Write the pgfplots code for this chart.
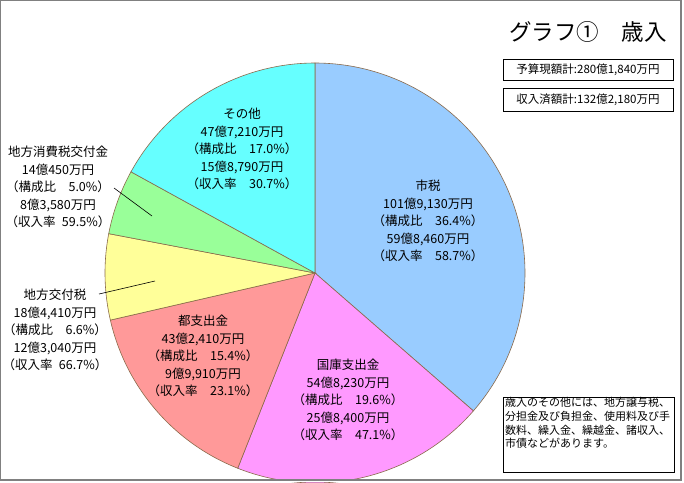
\documentclass[border=0pt]{standalone}
\usepackage{fontspec}
\setmainfont{Noto Sans CJK JP}
\usepackage{pgfplots}
\pgfplotsset{compat=1.18}
\definecolor{cShi}{HTML}{99CCFF}
\definecolor{cKoku}{HTML}{FF99FF}
\definecolor{cTo}{HTML}{FF9999}
\definecolor{cKofu}{HTML}{FFFF99}
\definecolor{cShohi}{HTML}{99FF99}
\definecolor{cSonota}{HTML}{66FFFF}
\definecolor{edge}{HTML}{8A6A4A}
\definecolor{frame}{HTML}{808080}
\begin{document}
\begin{tikzpicture}
\begin{axis}[width=684pt,height=482pt,scale only axis,hide axis,
  xmin=0,xmax=684,ymin=0,ymax=482,y dir=reverse,clip=true]
\fill[white] (0,0) rectangle (684,482);
% slices: 36.4, 19.6, 15.4, 6.6, 5.0, 17.0 percent, clockwise from 12 o'clock
\addplot[fill=cShi,draw=edge,line width=0.6pt,domain=-41.04:90,samples=120]
  ({315+210*cos(x)},{273-210*sin(x)}) -- (315,273) -- cycle;
\addplot[fill=cKoku,draw=edge,line width=0.6pt,domain=-111.6:-41.04,samples=80]
  ({315+210*cos(x)},{273-210*sin(x)}) -- (315,273) -- cycle;
\addplot[fill=cTo,draw=edge,line width=0.6pt,domain=-167.04:-111.6,samples=70]
  ({315+210*cos(x)},{273-210*sin(x)}) -- (315,273) -- cycle;
\addplot[fill=cKofu,draw=edge,line width=0.6pt,domain=-190.8:-167.04,samples=40]
  ({315+210*cos(x)},{273-210*sin(x)}) -- (315,273) -- cycle;
\addplot[fill=cShohi,draw=edge,line width=0.6pt,domain=-208.8:-190.8,samples=40]
  ({315+210*cos(x)},{273-210*sin(x)}) -- (315,273) -- cycle;
\addplot[fill=cSonota,draw=edge,line width=0.6pt,domain=-270:-208.8,samples=80]
  ({315+210*cos(x)},{273-210*sin(x)}) -- (315,273) -- cycle;
% bottom/right margin and frame
\fill[white] (0,480.5) rectangle (684,482);
\fill[white] (681.5,0) rectangle (684,482);
\draw[frame,line width=1.2pt] (0.6,0.6) rectangle (681,480);
% leader lines
\draw[black,line width=0.6pt] (114,188) -- (152,216);
\draw[black,line width=0.6pt] (99,294) -- (155,281);
% slice labels
\tikzset{lab/.style={align=center,inner sep=0pt,font=\fontsize{12.5}{17.6}\selectfont}}
\node[lab] at (428,221) {市税\\101億9,130万円\\（構成比　36.4\%）\\59億8,460万円\\（収入率　58.7\%）};
\node[lab] at (348,400) {国庫支出金\\54億8,230万円\\（構成比　19.6\%）\\25億8,400万円\\（収入率　47.1\%）};
\node[lab] at (203,356) {都支出金\\43億2,410万円\\（構成比　15.4\%）\\9億9,910万円\\（収入率　23.1\%）};
\node[lab] at (242,149) {その他\\47億7,210万円\\（構成比　17.0\%）\\15億8,790万円\\（収入率　30.7\%）};
\node[lab] at (58,187) {地方消費税交付金\\14億450万円\\（構成比　5.0\%）\\8億3,580万円\\（収入率\enspace59.5\%）};
\node[lab] at (55,330) {地方交付税\\18億4,410万円\\（構成比　6.6\%）\\12億3,040万円\\（収入率\enspace66.7\%）};
% title and boxes
\node[inner sep=0pt,font=\fontsize{22.5}{26}\selectfont] at (588,32) {グラフ①　歳入};
\draw[black,line width=0.8pt] (503,59) rectangle (673,80);
\node[inner sep=0pt,font=\fontsize{11.5}{13}\selectfont] at (588,69.5) {予算現額計:280億1,840万円};
\draw[black,line width=0.8pt] (503,88) rectangle (673,111);
\node[inner sep=0pt,font=\fontsize{11.5}{13}\selectfont] at (588,99.5) {収入済額計:132億2,180万円};
\draw[black,line width=0.8pt,fill=white] (503,397) rectangle (674,472);
\node[anchor=north west,inner sep=0pt,align=left,font=\fontsize{11}{13.6}\selectfont] at (505,397.5)
  {歳入のその他には、地方譲与税、\\分担金及び負担金、使用料及び手\\数料、繰入金、繰越金、諸収入、\\市債などがあります。};
\end{axis}
\end{tikzpicture}
\end{document}
